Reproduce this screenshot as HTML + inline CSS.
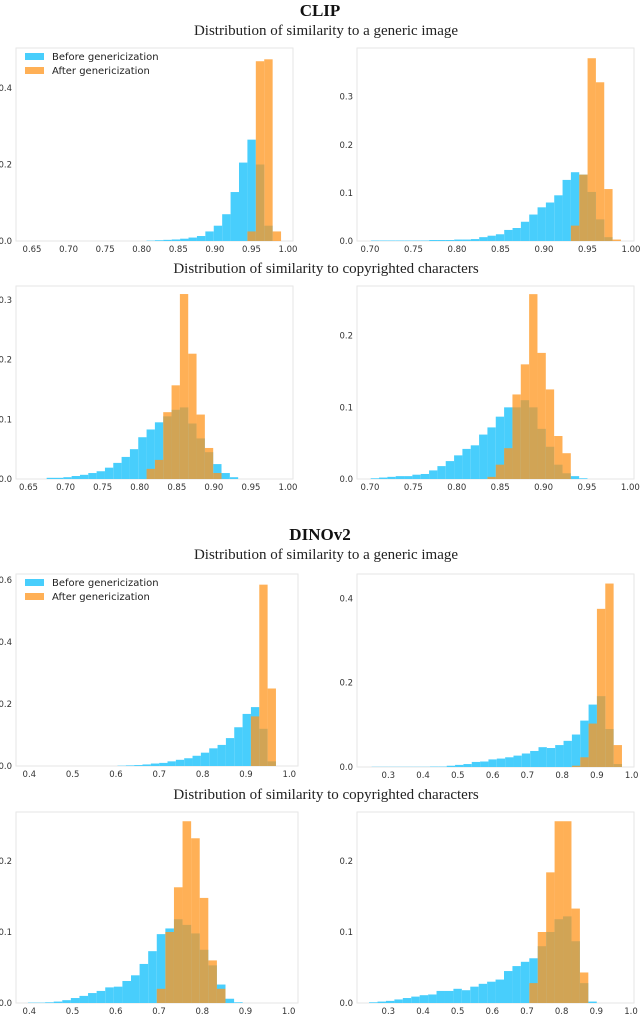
<!DOCTYPE html>
<html><head><meta charset="utf-8">
<style>
html,body{margin:0;padding:0;background:#fff;}
svg{display:block;}
.ttl{font-family:"Liberation Serif",serif;font-weight:bold;font-size:17px;fill:#111;}
.sub{font-family:"Liberation Serif",serif;font-size:15px;fill:#222;}
.tick{font-family:"DejaVu Sans","Liberation Sans",sans-serif;font-size:8.5px;fill:#333;}
.leg{font-family:"DejaVu Sans","Liberation Sans",sans-serif;font-size:10px;fill:#222;}
</style></head>
<body>
<svg id="fig" width="640" height="1014" viewBox="0 0 640 1014" xmlns="http://www.w3.org/2000/svg">
<text class="ttl" x="320" y="16" text-anchor="middle">CLIP</text>
<text class="sub" x="326" y="35" text-anchor="middle">Distribution of similarity to a generic image</text>
<text class="sub" x="326" y="273" text-anchor="middle">Distribution of similarity to copyrighted characters</text>
<text class="ttl" x="320" y="540" text-anchor="middle">DINOv2</text>
<text class="sub" x="326" y="559" text-anchor="middle">Distribution of similarity to a generic image</text>
<text class="sub" x="326" y="799" text-anchor="middle">Distribution of similarity to copyrighted characters</text>
</svg>
<script>
// ---- data (bin start, bin width, densities) ----
const p1Start = 0.8065, p1Width = 0.0115;
const p1Before = [0.001,0.002,0.003,0.004,0.006,0.009,0.013,0.025,0.04,0.07,0.128,0.205,0.265,0.2,0.04];
const p1After = [0,0,0,0,0,0,0,0,0,0,0,0,0.025,0.47,0.475,0.025];
const p1XTicks = [0.65,0.70,0.75,0.80,0.85,0.90,0.95,1.00];
const p1YTicks = [0.0,0.2,0.4];

const p2Start = 0.701, p2Width = 0.00958;
const p2Before = [0.001,0.001,0.001,0.001,0.001,0.001,0.001,0.002,0.002,0.002,0.003,0.003,0.004,0.008,0.011,0.014,0.023,0.027,0.04,0.055,0.07,0.08,0.095,0.127,0.143,0.138,0.102,0.045,0.008];
const p2After = [0,0,0,0,0,0,0,0,0,0,0,0,0,0,0,0,0,0,0,0,0,0,0,0,0.032,0.138,0.38,0.33,0.108,0.003];
const p2XTicks = [0.70,0.75,0.80,0.85,0.90,0.95,1.00];
const p2YTicks = [0.0,0.1,0.2,0.3];

const p3Start = 0.6745, p3Width = 0.01123;
const p3Before = [0.002,0.002,0.003,0.005,0.007,0.01,0.013,0.019,0.027,0.037,0.05,0.07,0.083,0.095,0.105,0.116,0.12,0.093,0.068,0.045,0.025,0.01,0.003];
const p3After = [0,0,0,0,0,0,0,0,0,0,0,0,0.017,0.032,0.112,0.157,0.31,0.21,0.108,0.052,0.01];
const p3XTicks = [0.65,0.70,0.75,0.80,0.85,0.90,0.95,1.00];
const p3YTicks = [0.0,0.1,0.2,0.3];

const p4Start = 0.7008, p4Width = 0.00961;
const p4Before = [0.001,0.002,0.003,0.004,0.004,0.006,0.007,0.012,0.018,0.025,0.033,0.042,0.047,0.062,0.072,0.087,0.1,0.1,0.11,0.1,0.07,0.045,0.02,0.008,0.004,0.001];
const p4After = [0,0,0,0,0,0,0,0,0,0,0,0,0,0,0.003,0.02,0.043,0.118,0.16,0.258,0.176,0.125,0.06,0.036];
const p4XTicks = [0.70,0.75,0.80,0.85,0.90,0.95,1.00];
const p4YTicks = [0.0,0.1,0.2];

const p5Start = 0.3917, p5Width = 0.01925;
const p5Before = [0,0,0,0,0,0,0,0,0,0,0,0.001,0.002,0.003,0.005,0.008,0.01,0.015,0.02,0.025,0.033,0.043,0.057,0.068,0.09,0.125,0.168,0.19,0.12,0.015];
const p5After = [0,0,0,0,0,0,0,0,0,0,0,0,0,0,0,0,0,0,0,0,0,0,0,0,0,0,0,0.16,0.585,0.25];
const p5XTicks = [0.4,0.5,0.6,0.7,0.8,0.9,1.0];
const p5YTicks = [0.0,0.2,0.4,0.6];

const p6Start = 0.228, p6Width = 0.024;
const p6Before = [0,0.0005,0.0005,0.0005,0.0005,0.0005,0.0005,0.0005,0.001,0.001,0.003,0.005,0.007,0.012,0.013,0.018,0.02,0.023,0.027,0.032,0.038,0.047,0.045,0.052,0.062,0.077,0.11,0.148,0.168,0.09,0.007];
const p6After = [0,0,0,0,0,0,0,0,0,0,0,0,0,0,0,0,0,0,0,0,0,0,0,0,0,0.003,0.023,0.103,0.375,0.435,0.052];
const p6XTicks = [0.3,0.4,0.5,0.6,0.7,0.8,0.9,1.0];
const p6YTicks = [0.0,0.2,0.4];

const p7Start = 0.3968, p7Width = 0.01987;
const p7Before = [0.0005,0.0005,0.001,0.002,0.004,0.007,0.01,0.014,0.017,0.022,0.023,0.031,0.039,0.055,0.073,0.097,0.105,0.118,0.11,0.098,0.075,0.053,0.026,0.006,0.001];
const p7After = [0,0,0,0,0,0,0,0,0,0,0,0,0,0,0,0.02,0.1,0.163,0.256,0.232,0.148,0.06,0.02];
const p7XTicks = [0.4,0.5,0.6,0.7,0.8,0.9,1.0];
const p7YTicks = [0.0,0.1,0.2];

const p8Start = 0.2446, p8Width = 0.02432;
const p8Before = [0.001,0.002,0.003,0.005,0.007,0.009,0.011,0.012,0.017,0.017,0.02,0.018,0.023,0.027,0.03,0.033,0.045,0.052,0.058,0.063,0.08,0.1,0.118,0.122,0.087,0.028,0.002];
const p8After = [0,0,0,0,0,0,0,0,0,0,0,0,0,0,0,0,0,0,0,0.028,0.1,0.184,0.256,0.256,0.133,0.043];
const p8XTicks = [0.3,0.4,0.5,0.6,0.7,0.8,0.9,1.0];
const p8YTicks = [0.0,0.1,0.2];

// ---- layout (pixel geometry; not data) ----
const NS = 'http://www.w3.org/2000/svg';
const fig = document.getElementById('fig');
function mk(tag, attrs, parent){
  const e = document.createElementNS(NS, tag);
  for (const k in attrs) e.setAttribute(k, attrs[k]);
  (parent || fig).appendChild(e);
  return e;
}
function fmt(v, dec){ return v.toFixed(dec); }

function panel(name, box, xd, yd, start, width, before, after, xt, yt, xdec, legend){
  const g = mk('g', {});
  
  
  const xs = v => xd.p0 + (v - xd.v0) * (xd.p1 - xd.p0) / (xd.v1 - xd.v0);
  const ys = v => box.b - v / yd.v * (box.b - yd.p);
  const frame = mk('rect', {x: box.l, y: box.t, width: box.r - box.l, height: box.b - box.t, fill: '#fff', stroke: '#e6e6e6', 'stroke-width': 1}, g);
  
  
  before.forEach((v, i) => {
    if (v <= 0) return;
    const x0 = xs(start + i * width), x1 = xs(start + (i + 1) * width);
    const r = mk('rect', {x: x0, y: ys(v), width: x1 - x0, height: box.b - ys(v), fill: 'rgb(72,206,252)'}, g);
    
    
  });
  after.forEach((v, i) => {
    if (v <= 0) return;
    const x0 = xs(start + i * width), x1 = xs(start + (i + 1) * width);
    const r = mk('rect', {x: x0, y: ys(v), width: x1 - x0, height: box.b - ys(v), fill: 'rgb(255,150,30)', 'fill-opacity': 0.75}, g);
    
    
  });
  xt.forEach(v => {
    const t = mk('text', {class: 'tick', x: xs(v), y: box.b + 11, 'text-anchor': 'middle'}, g);
    t.textContent = fmt(v, xdec);
    
    
  });
  yt.forEach(v => {
    const t = mk('text', {class: 'tick', x: box.l - 4, y: ys(v) + 3, 'text-anchor': 'end'}, g);
    t.textContent = fmt(v, 1);
    
    
  });
  if (legend){
    const lg = mk('g', {}, g);
    
    
    const y0 = box.t + 9;
    const a = mk('rect', {x: box.l + 9, y: y0 - 4, width: 19, height: 7, fill: 'rgb(72,206,252)'}, lg);
    
    
    const at = mk('text', {class: 'leg', x: box.l + 36, y: y0 + 3}, lg);
    at.textContent = 'Before genericization';
    
    
    const b = mk('rect', {x: box.l + 9, y: y0 + 10, width: 19, height: 7, fill: 'rgb(255,150,30)', 'fill-opacity': 0.75}, lg);
    
    
    const bt = mk('text', {class: 'leg', x: box.l + 36, y: y0 + 17}, lg);
    bt.textContent = 'After genericization';
    
    
  }
}

panel('clip-generic-left', {l:16,r:293,t:48,b:241}, {v0:0.65,p0:32,v1:1.0,p1:288}, {v:0.4,p:88}, p1Start, p1Width, p1Before, p1After, p1XTicks, p1YTicks, 2, true);
panel('clip-generic-right', {l:357,r:634,t:48,b:241}, {v0:0.70,p0:370,v1:1.0,p1:631}, {v:0.3,p:96.7}, p2Start, p2Width, p2Before, p2After, p2XTicks, p2YTicks, 2, false);
panel('clip-copyright-left', {l:16,r:293,t:286,b:479}, {v0:0.65,p0:28.5,v1:1.0,p1:288}, {v:0.3,p:300}, p3Start, p3Width, p3Before, p3After, p3XTicks, p3YTicks, 2, false);
panel('clip-copyright-right', {l:357,r:634,t:286,b:479}, {v0:0.70,p0:370,v1:1.0,p1:630.3}, {v:0.2,p:335.7}, p4Start, p4Width, p4Before, p4After, p4XTicks, p4YTicks, 2, false);
panel('dino-generic-left', {l:16,r:298,t:574,b:766}, {v0:0.4,p0:29.3,v1:1.0,p1:289.3}, {v:0.6,p:580}, p5Start, p5Width, p5Before, p5After, p5XTicks, p5YTicks, 1, true);
panel('dino-generic-right', {l:357,r:634,t:574,b:767}, {v0:0.3,p0:388.3,v1:1.0,p1:631.7}, {v:0.4,p:598.3}, p6Start, p6Width, p6Before, p6After, p6XTicks, p6YTicks, 1, false);
panel('dino-copyright-left', {l:16,r:298,t:812,b:1003}, {v0:0.4,p0:29.3,v1:1.0,p1:288.7}, {v:0.2,p:861}, p7Start, p7Width, p7Before, p7After, p7XTicks, p7YTicks, 1, false);
panel('dino-copyright-right', {l:357,r:634,t:812,b:1003}, {v0:0.3,p0:388.3,v1:1.0,p1:631}, {v:0.2,p:861}, p8Start, p8Width, p8Before, p8After, p8XTicks, p8YTicks, 1, false);
</script>
</body></html>
